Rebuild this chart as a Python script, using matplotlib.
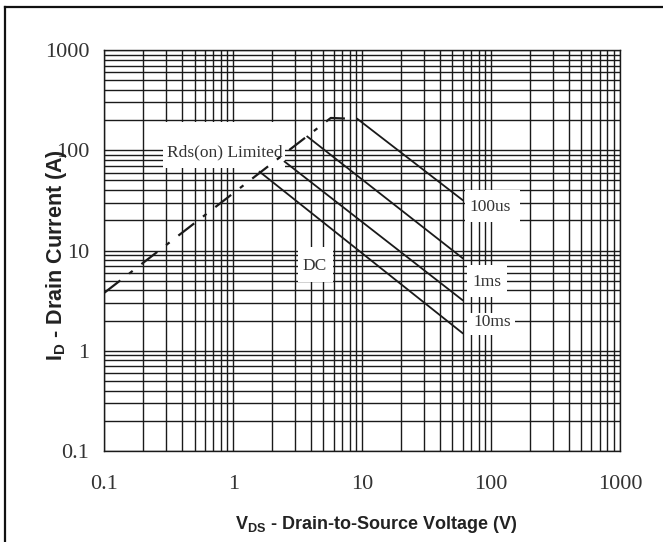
import matplotlib
matplotlib.use("Agg")
import matplotlib.pyplot as plt
from matplotlib.patches import Rectangle
from matplotlib.lines import Line2D
from matplotlib.ticker import LogLocator, NullFormatter, FixedLocator, FixedFormatter

plt.rcParams['mathtext.fontset'] = 'custom'
plt.rcParams['mathtext.rm'] = 'Liberation Sans'
plt.rcParams['mathtext.bf'] = 'Liberation Sans:bold'

# Rds(on) limit (dash-dot)
rds_v = [0.1, 5.7, 9.2]
rds_i = [3.8, 210, 205]

# pulse / DC limit lines
v_100us = [9.2, 60]
i_100us = [205, 31.9]
v_1ms = [3.75, 60]
i_1ms = [137, 8.4]
v_10ms = [2.5, 60]
i_10ms = [77, 3.2]
v_dc = [1.6, 60]
i_dc = [61, 1.5]

tick_vals = [0.1, 1, 10, 100, 1000]
tick_text = ['0.1', '1', '10', '100', '1000']

# label text, text centre (axes frac), white box (axes frac x0, y0, x1, y1)
labels = ['Rds(on) Limited', '100us', '1ms', '10ms', 'DC']
label_pos = [(0.2338, 0.7456), (0.7478, 0.6085), (0.742, 0.4214), (0.7517, 0.3217), (0.4084, 0.4613)]
label_box = [(0.1135, 0.7057, 0.3501, 0.8204), (0.6993, 0.5711, 0.8060, 0.6509),
             (0.7032, 0.3840, 0.7808, 0.4638), (0.7032, 0.2893, 0.7963, 0.3441),
             (0.3754, 0.4214, 0.4433, 0.5087)]

fig = plt.figure(figsize=(6.63, 5.42), dpi=100)
ax = fig.add_axes([0.1576, 0.1679, 0.7775, 0.7398])
ax.set_xscale('log')
ax.set_yscale('log')
ax.set_xlim(0.1, 1000)
ax.set_ylim(0.1, 1000)

ax.xaxis.set_major_locator(FixedLocator(tick_vals))
ax.xaxis.set_major_formatter(FixedFormatter(tick_text))
ax.yaxis.set_major_locator(FixedLocator(tick_vals))
ax.yaxis.set_major_formatter(FixedFormatter(tick_text))
for a in (ax.xaxis, ax.yaxis):
    a.set_minor_locator(LogLocator(base=10, subs=range(2, 10), numticks=20))
    a.set_minor_formatter(NullFormatter())

ax.grid(True, which='both', color='#1a1a1a', linewidth=1.0)
ax.set_axisbelow(True)
ax.tick_params(which='both', length=0)
ax.tick_params(axis='y', pad=11)
ax.tick_params(axis='x', pad=17)
for lab in ax.get_xticklabels() + ax.get_yticklabels():
    lab.set_fontfamily('Liberation Serif')
    lab.set_fontsize(16)
    lab.set_color('#333333')
for s in ax.spines.values():
    s.set_color('#1a1a1a')
    s.set_linewidth(1.0)

for (x0, y0, x1, y1) in label_box:
    ax.add_patch(Rectangle((x0, y0), x1 - x0, y1 - y0, transform=ax.transAxes,
                           facecolor='white', edgecolor='none', zorder=2))

ax.plot(rds_v, rds_i, color='#1a1a1a', linewidth=1.6, linestyle=(0, (9, 5, 2, 5)), zorder=3)
for v, i in [(v_100us, i_100us), (v_1ms, i_1ms), (v_10ms, i_10ms), (v_dc, i_dc)]:
    ax.plot(v, i, color='#1a1a1a', linewidth=1.3, zorder=3)

for txt, (x, y) in zip(labels, label_pos):
    ax.text(x, y, txt, transform=ax.transAxes, ha='center', va='center',
            fontfamily='Liberation Serif', fontsize=12.5, color='#333333', zorder=4)

ax.set_xlabel(r'$\mathbf{V}_{\mathbf{DS}}$ - Drain-to-Source Voltage (V)',
              fontfamily='Liberation Sans', fontweight='bold', fontsize=13, color='#222222',
              va='center')
ax.xaxis.set_label_coords(0.527, -0.1845)
ax.set_ylabel(r'$\mathbf{I}_{\mathbf{D}}$ - Drain Current (A)',
              fontfamily='Liberation Sans', fontweight='bold', fontsize=15.5, color='#222222',
              va='center')
ax.yaxis.set_label_coords(-0.094, 0.49)

# page border (top and left)
fig.add_artist(Line2D([0.0075, 1.0], [0.987, 0.987], color='#111111', linewidth=1.6))
fig.add_artist(Line2D([0.0075, 0.0075], [0.0, 0.987], color='#111111', linewidth=1.6))

fig.savefig('out.png', dpi=100)
